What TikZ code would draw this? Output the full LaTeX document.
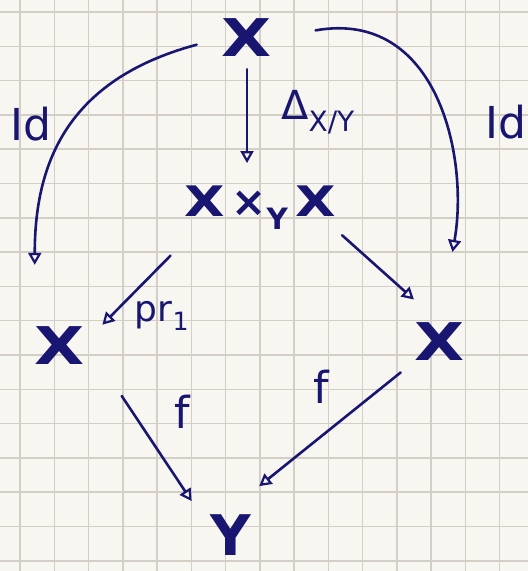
\documentclass[tikz,border=0pt]{standalone}
\usepackage{fontspec}
\setmainfont{DejaVu Sans}
\usetikzlibrary{arrows.meta, positioning, calc}
\definecolor{InkBlue}{RGB}{24,22,112}
\definecolor{PaperFill}{RGB}{248,246,240}
\definecolor{GridLine}{RGB}{212,207,198}
\newcommand{\wideX}{\scalebox{1.25}[1]{X}}

\begin{document}
\begin{tikzpicture}[
    x=1pt, y=1pt,
    obj/.style={font=\fontsize{52}{52}\selectfont\bfseries, text=InkBlue, inner sep=0pt},
    lbl/.style={font=\fontsize{36}{36}\selectfont, text=InkBlue, inner sep=0pt},
    arr/.style={-{Triangle[open, length=12pt, width=13pt, line width=2.2pt]},
        line width=2.6pt, draw=InkBlue, line cap=round},
]

% ===================================================================
% PAPER
% ===================================================================
\fill[PaperFill] (0,0) rectangle (528,-571);
\useasboundingbox (0,0) rectangle (528,-571);
\foreach \x in {0,...,14} {
    \draw[GridLine, line width=1.5pt] ({20+34.25*\x},0) -- ++(0,-571);
}
\foreach \y in {0,...,16} {
    \draw[GridLine, line width=1.5pt] (0,{-12-34.3*\y}) -- ++(528,0);
}

% ===================================================================
% OBJECTS
% ===================================================================
\node[obj] (topX) at (247,-38) {\wideX};
\node[obj, font=\fontsize{42}{42}\selectfont\bfseries] (fibre) at (260,-208)
    {\wideX\,×\textsubscript{Y}\,\wideX};
\node[obj] (leftX) at (60,-346) {\wideX};
\node[obj] (rightX) at (440,-342) {\wideX};
\node[obj, font=\fontsize{56}{56}\selectfont\bfseries] (Y) at (231,-535) {Y};

% ===================================================================
% MAPS
% ===================================================================
% diagonal
\draw[arr, shorten <=12pt, shorten >=23pt] (topX.south) -- (topX.south |- fibre.north);
\node[lbl, font=\fontsize{40}{40}\selectfont] (deltaLbl) at (318,-112) {Δ\textsubscript{X/Y}};

% identities
\draw[arr, shorten <=26pt, shorten >=62pt]
    (topX.west) to[out=195, in=90, looseness=1.2] (leftX.north west);
\node[lbl, font=\fontsize{44}{44}\selectfont] (idLeft) at (31,-124) {Id};
\draw[arr, shorten <=44pt, shorten >=72pt]
    (topX.east) to[out=10, in=80, looseness=1.3] (rightX.north);
\node[lbl, font=\fontsize{44}{44}\selectfont] (idRight) at (506,-122) {Id};

% projections
\draw[arr, shorten <=36pt, shorten >=3pt]
    ([xshift=12pt]fibre.south west) -- ([xshift=15pt]leftX.north east);
\node[lbl] (prLbl) at (162,-316) {pr\textsubscript{1}};
\draw[arr, shorten <=8pt, shorten >=35pt] (fibre.south east) -- (rightX.north);

% f
\draw[arr, shorten <=37pt, shorten >=16pt]
    ([xshift=16pt]leftX.south east) -- ([xshift=-10pt]Y.north west);
\node[lbl, font=\fontsize{44}{44}\selectfont] (fLeft) at (182,-412) {f};
\draw[arr, shorten <=18pt, shorten >=10pt]
    (rightX.south west) -- ([yshift=22pt]Y.north east);
\node[lbl, font=\fontsize{44}{44}\selectfont] (fRight) at (321,-387) {f};

\end{tikzpicture}
\end{document}
